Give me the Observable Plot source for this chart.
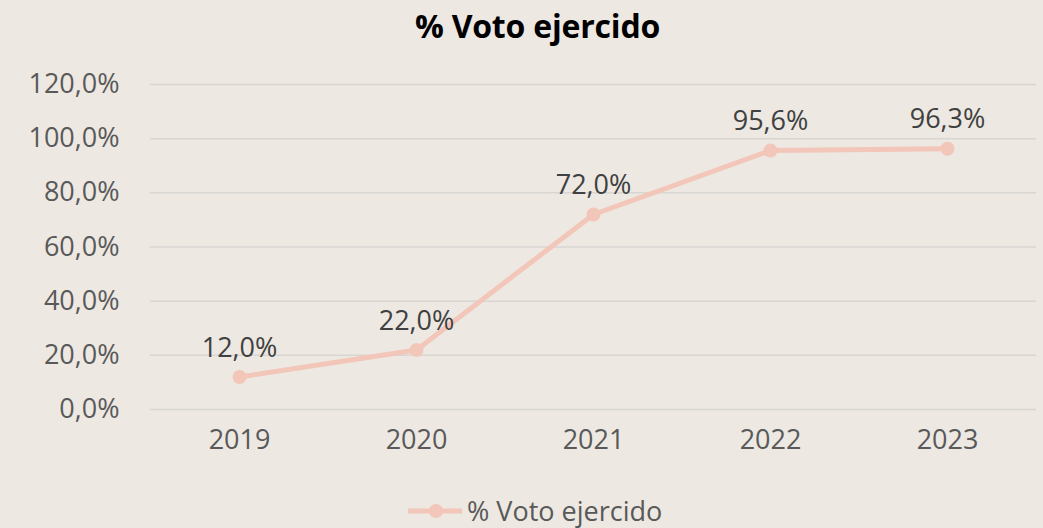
<!DOCTYPE html>
<html>
<head>
<meta charset="utf-8">
<script src="https://cdn.jsdelivr.net/npm/d3@7"></script>
<script src="https://cdn.jsdelivr.net/npm/@observablehq/plot@0.6"></script>
<style>
  html, body { margin: 0; padding: 0; background: #EDE8E2; }
  #chart { position: relative; width: 1043px; height: 528px; overflow: hidden; font-family: "Open Sans", sans-serif; }
  #title { position: absolute; top: 0; left: 16px; width: 1043px; text-align: center; font-weight: bold; font-size: 32px; line-height: 52px; color: #000; letter-spacing: -0.2px; }
  #plot { position: absolute; top: 56px; left: 0; }
  #legend { position: absolute; top: 494px; left: 406px; height: 34px; display: flex; align-items: center; font-size: 27px; line-height: 34px; color: #595959; }
</style>
</head>
<body>
<div id="chart">
  <div id="title">% Voto ejercido</div>
  <div id="plot"></div>
  <div id="legend"></div>
</div>
<script>
const seriesName = "% Voto ejercido";
const years = ["2019", "2020", "2021", "2022", "2023"];
const values = [12.0, 22.0, 72.0, 95.6, 96.3];
const yTicks = [0, 20, 40, 60, 80, 100, 120];

const lineColor = "#F2C6B8";
const fmt = v => v.toFixed(1).replace(".", ",") + "%";
const data = years.map((y, i) => ({year: y, value: values[i]}));

const chart = Plot.plot({
  width: 1043,
  height: 420,
  marginTop: 28,
  marginBottom: 67,
  marginLeft: 150,
  marginRight: 7,
  style: {background: "transparent", fontFamily: "Open Sans, sans-serif", fontSize: "27px", color: "#595959"},
  x: {type: "point", domain: years, padding: 0.5, label: null},
  y: {domain: [0, 120], ticks: yTicks, label: null},
  marks: [
    Plot.ruleY(yTicks, {stroke: "#D8D6D3", strokeWidth: 1.5}),
    Plot.axisY({ticks: yTicks, tickFormat: fmt, tickSize: 0, tickPadding: 31, fontSize: 27, fill: "#595959", label: null}),
    Plot.axisX({tickSize: 0, tickPadding: 20, fontSize: 27, fill: "#595959", label: null}),
    Plot.line(data, {x: "year", y: "value", stroke: lineColor, strokeWidth: 5, strokeLinecap: "round", strokeLinejoin: "round"}),
    Plot.dot(data, {x: "year", y: "value", r: 7, fill: lineColor, stroke: "none"}),
    Plot.text(data, {x: "year", y: "value", text: d => fmt(d.value), dy: -29, fontSize: 27, fill: "#404040"})
  ]
});
document.getElementById("plot").appendChild(chart);

// legend
const leg = document.getElementById("legend");
const sw = d3.create("svg").attr("width", 58).attr("height", 20).style("margin-right", "3px");
sw.append("line").attr("x1", 2).attr("x2", 56).attr("y1", 10).attr("y2", 10).attr("stroke", lineColor).attr("stroke-width", 5);
sw.append("circle").attr("cx", 30).attr("cy", 10).attr("r", 7).attr("fill", lineColor);
leg.appendChild(sw.node());
const lt = document.createElement("span");
lt.textContent = seriesName;
leg.appendChild(lt);
</script>
</body>
</html>
